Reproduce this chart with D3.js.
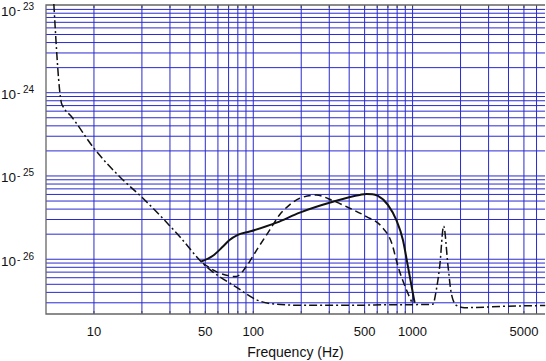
<!DOCTYPE html>
<html lang="en">
<head>
    <meta charset="UTF-8">
    <title>Strain spectrum</title>
    <style>
        html, body {
            margin: 0;
            padding: 0;
            background-color: #ffffff;
        }
        #chart {
            width: 546px;
            height: 361px;
        }
        text {
            font-family: "Liberation Sans", Arial, Helvetica, sans-serif;
            fill: #111;
        }
    </style>
</head>
<body>
    <div id="chart"></div>

    <script src="https://cdn.jsdelivr.net/npm/d3@7"></script>
    <script>
        // tick labels
        const freqTicks = [10, 50, 100, 500, 1000, 5000];
        const ampExponents = [-26, -25, -24, -23];

        // dash-dot curve (detector noise)
        const noiseFreq = [5.6, 6.25, 6.4, 7.2, 10.1, 14.5, 20.3, 34.5, 48.3, 80, 105, 140, 200, 400, 830, 1000, 1340, 1410, 1480, 1567, 1670, 1750, 1880, 2120, 3700, 6800];
        const noiseAmp = [1.16e-23, 7.5e-25, 6.8e-25, 5.2e-25, 2.1e-25, 9.8e-26, 5.4e-26, 1.87e-26, 8.9e-27, 4.5e-27, 3.25e-27, 2.88e-27, 2.8e-27, 2.8e-27, 2.85e-27, 2.85e-27, 2.88e-27, 4.3e-27, 8.2e-27, 2.5e-26, 8.2e-27, 3.9e-27, 2.8e-27, 2.62e-27, 2.72e-27, 2.78e-27];

        // solid curve
        const solidFreq = [47.2, 55.8, 64.5, 71, 80, 95, 140, 196, 316, 466, 513, 560, 607, 700, 790, 870, 935, 1030];
        const solidAmp = [9.4e-27, 1.1e-26, 1.42e-26, 1.7e-26, 1.96e-26, 2.15e-26, 2.75e-26, 3.63e-26, 4.9e-26, 5.92e-26, 6.08e-26, 6.05e-26, 5.75e-26, 4.5e-26, 2.96e-26, 1.7e-26, 8.2e-27, 3.0e-27];

        // dashed curve
        const dashedFreq = [48.3, 61.5, 78, 90.5, 105, 127, 146, 169, 196, 249, 316, 403, 513, 640, 740, 810, 915, 985];
        const dashedAmp = [8.95e-27, 6.8e-27, 6.2e-27, 8.2e-27, 1.29e-26, 2.25e-26, 3.4e-26, 4.5e-26, 5.4e-26, 5.9e-26, 5.05e-26, 4.1e-26, 3.25e-26, 2.46e-26, 1.56e-26, 8.2e-27, 4.3e-27, 3.1e-27];

        const width = 546, height = 361;
        const plotLeft = 46, plotRight = 545, plotTop = 5, plotBottom = 314;

        const x = d3.scaleLog().domain([5, 6780]).range([plotLeft, plotRight]);
        const y = d3.scaleLog().domain([2.2e-27, 1.13e-23]).range([plotBottom, plotTop]);

        const svg = d3.select('#chart')
            .append('svg')
            .attr('width', width)
            .attr('height', height);

        // grid values: every 1..9 x 10^k inside the plot
        const xGrid = [];
        [10, 100, 1000].forEach(p => {
            for (let m = 1; m <= 9; m++) {
                const v = m * p;
                if (v <= 6780) xGrid.push(v);
            }
        });
        const yGrid = [];
        [-27, -26, -25, -24, -23].forEach(e => {
            for (let m = 1; m <= 9; m++) {
                const v = m * Math.pow(10, e);
                if (v >= 2.2e-27 && v <= 1.13e-23) yGrid.push(v);
            }
        });

        const gridColor = '#2a2ad0';

        svg.append('g')
            .selectAll('line')
            .data(yGrid)
            .enter()
            .append('line')
            .attr('x1', plotLeft)
            .attr('x2', plotRight)
            .attr('y1', d => y(d))
            .attr('y2', d => y(d))
            .attr('stroke', gridColor)
            .attr('stroke-width', 1);

        svg.append('g')
            .selectAll('line')
            .data(xGrid)
            .enter()
            .append('line')
            .attr('x1', d => x(d))
            .attr('x2', d => x(d))
            .attr('y1', plotTop)
            .attr('y2', plotBottom)
            .attr('stroke', gridColor)
            .attr('stroke-width', 1);

        // small frame ticks
        const tickColor = '#444';
        svg.append('g')
            .selectAll('line')
            .data(xGrid)
            .enter()
            .append('line')
            .attr('x1', d => x(d))
            .attr('x2', d => x(d))
            .attr('y1', plotTop)
            .attr('y2', plotTop + 3)
            .attr('stroke', tickColor);
        svg.append('g')
            .selectAll('line')
            .data(xGrid)
            .enter()
            .append('line')
            .attr('x1', d => x(d))
            .attr('x2', d => x(d))
            .attr('y1', plotBottom)
            .attr('y2', plotBottom - 3)
            .attr('stroke', tickColor);

        // frame: left, top, bottom in grey
        svg.append('path')
            .attr('d', `M${plotRight},${plotTop}H${plotLeft}V${plotBottom}H${plotRight}`)
            .attr('fill', 'none')
            .attr('stroke', '#666')
            .attr('stroke-width', 1.3);

        // curves
        const line = d3.line()
            .x(d => x(d[0]))
            .y(d => y(d[1]))
            .curve(d3.curveMonotoneX);

        const plot = svg.append('g');

        plot.append('path')
            .datum(noiseFreq.map((f, i) => [f, noiseAmp[i]]))
            .attr('d', line)
            .attr('fill', 'none')
            .attr('stroke', '#111')
            .attr('stroke-width', 1.5)
            .attr('stroke-dasharray', '8,3,2,3');

        plot.append('path')
            .datum(dashedFreq.map((f, i) => [f, dashedAmp[i]]))
            .attr('d', line)
            .attr('fill', 'none')
            .attr('stroke', '#111')
            .attr('stroke-width', 1.5)
            .attr('stroke-dasharray', '7,4');

        plot.append('path')
            .datum(solidFreq.map((f, i) => [f, solidAmp[i]]))
            .attr('d', line)
            .attr('fill', 'none')
            .attr('stroke', '#111')
            .attr('stroke-width', 2);

        // x tick labels
        svg.append('g')
            .selectAll('text')
            .data(freqTicks)
            .enter()
            .append('text')
            .attr('x', d => x(d))
            .attr('y', 336)
            .attr('text-anchor', 'middle')
            .attr('font-size', '13px')
            .text(d => d);

        svg.append('text')
            .attr('x', (plotLeft + plotRight) / 2)
            .attr('y', 357)
            .attr('text-anchor', 'middle')
            .attr('font-size', '14px')
            .text('Frequency (Hz)');

        // y tick labels: 10^-n
        const yLab = svg.append('g')
            .selectAll('text')
            .data(ampExponents)
            .enter()
            .append('text')
            .attr('x', 1)
            .attr('y', d => y(Math.pow(10, d)) + 6.5)
            .attr('font-size', '13.5px');
        yLab.append('tspan').text('10');
        yLab.append('tspan')
            .attr('font-size', '10px')
            .attr('dx', 1)
            .attr('dy', -3)
            .text('-');
        yLab.append('tspan')
            .attr('font-size', '10px')
            .attr('dx', 2.5)
            .attr('dy', -3)
            .text(d => String(-d));
    </script>
</body>
</html>
